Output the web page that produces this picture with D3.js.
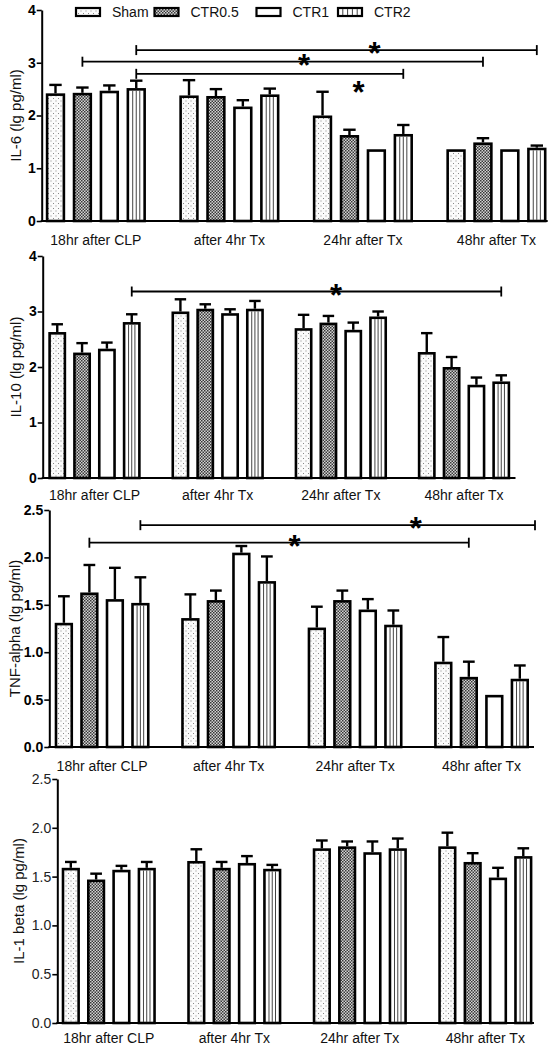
<!DOCTYPE html>
<html><head><meta charset="utf-8">
<script src="https://cdn.jsdelivr.net/npm/d3@7"></script>
<style>
body{margin:0;background:#fff}
svg{display:block}
text{font-family:"Liberation Sans",Arial,sans-serif}
</style>
</head><body>
<svg id="chart" width="550" height="1048"></svg>
<script>
// ---------------- DATA ----------------
const categories = ["18hr after CLP", "after 4hr Tx", "24hr after Tx", "48hr after Tx"];
const seriesNames = ["Sham", "CTR0.5", "CTR1", "CTR2"];

// IL-6 (lg pg/ml): rows = series (Sham, CTR0.5, CTR1, CTR2), cols = categories
const il6Means = [
  [2.42, 2.38, 2.00, 1.36],
  [2.43, 2.37, 1.63, 1.49],
  [2.47, 2.17, 1.36, 1.36],
  [2.52, 2.40, 1.65, 1.39]
];
const il6Errors = [
  [0.16, 0.29, 0.45, 0],
  [0.10, 0.13, 0.10, 0.08],
  [0.10, 0.12, 0, 0],
  [0.14, 0.11, 0.17, 0.04]
];
const il6Ticks = [0, 1, 2, 3, 4];

// IL-10
const il10Means = [
  [2.63, 3.00, 2.70, 2.27],
  [2.26, 3.05, 2.80, 2.00],
  [2.33, 2.97, 2.67, 1.68],
  [2.81, 3.05, 2.91, 1.74]
];
const il10Errors = [
  [0.14, 0.22, 0.24, 0.34],
  [0.17, 0.08, 0.12, 0.18],
  [0.11, 0.07, 0.13, 0.13],
  [0.14, 0.14, 0.09, 0.11]
];
const il10Ticks = [0, 1, 2, 3, 4];

// TNF-alpha
const tnfMeans = [
  [1.31, 1.36, 1.26, 0.90],
  [1.63, 1.55, 1.55, 0.74],
  [1.56, 2.05, 1.45, 0.55],
  [1.52, 1.75, 1.29, 0.72]
];
const tnfErrors = [
  [0.28, 0.25, 0.22, 0.26],
  [0.29, 0.10, 0.10, 0.16],
  [0.33, 0.07, 0.11, 0],
  [0.27, 0.26, 0.15, 0.14]
];
const tnfTicks = [0, 0.5, 1.0, 1.5, 2.0, 2.5];

// IL-1 beta
const il1bMeans = [
  [1.59, 1.66, 1.79, 1.81],
  [1.47, 1.59, 1.81, 1.65],
  [1.57, 1.64, 1.75, 1.49],
  [1.59, 1.58, 1.79, 1.71]
];
const il1bErrors = [
  [0.06, 0.12, 0.08, 0.14],
  [0.06, 0.06, 0.05, 0.09],
  [0.04, 0.07, 0.11, 0.10],
  [0.06, 0.04, 0.10, 0.08]
];
const il1bTicks = [0, 0.5, 1.0, 1.5, 2.0, 2.5];

// significance brackets: from/to = [categoryIndex, seriesIndex] ("end" = axis end)
const il6Sig = [
  {from: [0, 3], to: [3, 3], level: 3.24, label: "*"},
  {from: [0, 1], to: [3, 1], level: 3.02, label: "*"},
  {from: [0, 3], to: [2, 3], level: 2.79, label: "*"}
];
const il10Sig = [
  {from: [0, 3], to: [3, 3], level: 3.36, label: "*"}
];
const tnfSig = [
  {from: [0, 3], to: "end", level: 2.34, label: "*"},
  {from: [0, 1], to: [3, 1], level: 2.155, label: "*"}
];
const il1bSig = [];

// ---------------- LAYOUT ----------------
const panels = [
  {title: "IL-6 (lg pg/ml)", means: il6Means, errs: il6Errors, ticks: il6Ticks, fmt: d3.format("d"),
   max: 4, yTop: 10, yBase: 221, ax0: 41.7, ax1: 547.7, gL: 45.8, gR: 546.5, titleX: 15, bold: true,
   labelDy: 24, sig: il6Sig, starPos: [[0.595, "above"], [0.553, "above"], [0.832, "below"]]},
  {title: "IL-10 (lg pg/ml)", means: il10Means, errs: il10Errors, ticks: il10Ticks, fmt: d3.format("d"),
   max: 4, yTop: 256, yBase: 478, ax0: 42.7, ax1: 515.5, gL: 48.3, gR: 510.2, titleX: 15, bold: true,
   labelDy: 22, sig: il10Sig, starPos: [[0.553, "above"]]},
  {title: "TNF-alpha (lg pg/ml)", means: tnfMeans, errs: tnfErrors, ticks: tnfTicks, fmt: d3.format(".1f"),
   max: 2.5, yTop: 510, yBase: 747, ax0: 49.3, ax1: 534, gL: 54.7, gR: 529, titleX: 14, bold: true,
   labelDy: 24, sig: tnfSig, starPos: [[0.698, "above"], [0.541, "above"]]},
  {title: "IL-1 beta (lg pg/ml)", means: il1bMeans, errs: il1bErrors, ticks: il1bTicks, fmt: d3.format(".1f"),
   max: 2.5, yTop: 779, yBase: 1023, ax0: 57.3, ax1: 534, gL: 61.7, gR: 532.4, titleX: 18, bold: false,
   labelDy: 20, sig: il1bSig, starPos: []}
];

const svg = d3.select("#chart");
const defs = svg.append("defs");

// patterns
const pDots = defs.append("pattern").attr("id", "dots").attr("patternUnits", "userSpaceOnUse")
  .attr("width", 5).attr("height", 5);
pDots.append("rect").attr("width", 5).attr("height", 5).attr("fill", "#fbfbfb");
pDots.append("rect").attr("x", 0.5).attr("y", 0.5).attr("width", 1).attr("height", 1).attr("fill", "#888");
pDots.append("rect").attr("x", 3).attr("y", 3).attr("width", 1).attr("height", 1).attr("fill", "#888");

const pCheck = defs.append("pattern").attr("id", "check").attr("patternUnits", "userSpaceOnUse")
  .attr("width", 3).attr("height", 3);
pCheck.append("rect").attr("width", 3).attr("height", 3).attr("fill", "#d4d4d4");
pCheck.append("rect").attr("x", 0).attr("y", 0).attr("width", 1.5).attr("height", 1.5).attr("fill", "#383838");
pCheck.append("rect").attr("x", 1.5).attr("y", 1.5).attr("width", 1.5).attr("height", 1.5).attr("fill", "#383838");

const fills = ["url(#dots)", "url(#check)", "#fff", "#fff"];
const SW = 2.6; // bar stroke

panels.forEach(p => {
  const g = svg.append("g");
  const y = d3.scaleLinear().domain([0, p.max]).range([p.yBase, p.yTop]);
  const gx = d3.scaleBand().domain(categories).range([p.gL, p.gR]).paddingInner(0.25).paddingOuter(0);
  const sx = d3.scaleBand().domain(seriesNames).range([0, gx.bandwidth()]).paddingInner(0.28).paddingOuter(0);
  const cx = (ci, si) => gx(categories[ci]) + sx(seriesNames[si]) + sx.bandwidth() / 2;

  const rows = [];
  seriesNames.forEach((s, si) => categories.forEach((c, ci) => {
    rows.push({s, si, c, ci, v: p.means[si][ci], e: p.errs[si][ci]});
  }));

  // error bars
  const eb = g.append("g").attr("stroke", "#000").attr("stroke-width", 2.4).attr("fill", "none");
  rows.filter(d => d.e > 0).forEach(d => {
    const x = cx(d.ci, d.si);
    const capW = sx.bandwidth() * 0.32;
    eb.append("line").attr("x1", x).attr("x2", x).attr("y1", y(d.v)).attr("y2", y(d.v + d.e));
    eb.append("line").attr("x1", x - capW).attr("x2", x + capW).attr("y1", y(d.v + d.e)).attr("y2", y(d.v + d.e));
  });

  // bars
  g.append("g").selectAll("rect").data(rows).join("rect")
    .attr("x", d => gx(d.c) + sx(d.s) + SW / 2)
    .attr("width", sx.bandwidth() - SW)
    .attr("y", d => y(d.v) + SW / 2)
    .attr("height", d => p.yBase - y(d.v) - SW / 2)
    .attr("fill", d => fills[d.si])
    .attr("stroke", "#000").attr("stroke-width", SW);

  // vertical stripes for CTR2
  const stripes = g.append("g").attr("stroke", "#444").attr("stroke-width", 1);
  rows.filter(d => d.si === 3).forEach(d => {
    const x0 = gx(d.c) + sx(d.s) + SW;
    const w = sx.bandwidth() - 2 * SW;
    [0.25, 0.5, 0.75].forEach(f => {
      stripes.append("line").attr("x1", x0 + w * f).attr("x2", x0 + w * f)
        .attr("y1", y(d.v) + SW).attr("y2", p.yBase);
    });
  });

  // y axis
  const ax = g.append("g").attr("transform", `translate(${p.ax0},0)`)
    .call(d3.axisLeft(y).tickValues(p.ticks).tickFormat(p.fmt).tickSize(5).tickSizeOuter(0).tickPadding(1));
  ax.select(".domain").attr("stroke", "#000").attr("stroke-width", 2);
  ax.selectAll(".tick line").attr("stroke", "#000").attr("stroke-width", 1.6);
  ax.selectAll(".tick text").attr("font-size", 14).attr("font-weight", p.bold ? "bold" : "normal")
    .attr("fill", p.bold ? "#000" : "#222")
    .attr("font-family", '"Liberation Sans",Arial,sans-serif');

  // x axis line
  g.append("line").attr("x1", p.ax0 - 1).attr("x2", p.ax1).attr("y1", p.yBase).attr("y2", p.yBase)
    .attr("stroke", "#000").attr("stroke-width", 2.2);

  // category labels
  g.append("g").selectAll("text").data(categories).join("text")
    .attr("x", d => gx(d) + gx.bandwidth() / 2)
    .attr("y", p.yBase + p.labelDy)
    .attr("text-anchor", "middle").attr("font-size", 14).attr("fill", "#111")
    .text(d => d);

  // y title
  g.append("text")
    .attr("transform", `translate(${p.titleX},${(p.yBase + p.yTop) / 2}) rotate(-90)`)
    .attr("text-anchor", "middle").attr("dominant-baseline", "central")
    .attr("font-size", 15).attr("fill", "#111")
    .text(p.title);

  // significance brackets
  p.sig.forEach((b, i) => {
    const x1 = cx(b.from[0], b.from[1]);
    const x2 = b.to === "end" ? p.ax1 + 1 : cx(b.to[0], b.to[1]);
    const ly = y(b.level);
    const br = g.append("g").attr("stroke", "#000").attr("stroke-width", 1.8);
    br.append("line").attr("x1", x1).attr("x2", x2).attr("y1", ly).attr("y2", ly);
    br.append("line").attr("x1", x1).attr("x2", x1).attr("y1", ly - 5).attr("y2", ly + 5);
    br.append("line").attr("x1", x2).attr("x2", x2).attr("y1", ly - 5).attr("y2", ly + 5);
    const [t, where] = p.starPos[i];
    g.append("text").attr("x", x1 + (x2 - x1) * t)
      .attr("y", where === "above" ? ly + 14 : ly + 29)
      .attr("text-anchor", "middle").attr("font-size", 31).attr("font-weight", "bold")
      .text(b.label);
  });
});

// legend
const legendX = [75, 153.5, 255.5, 337];
const lg = svg.append("g");
seriesNames.forEach((s, i) => {
  const x = legendX[i];
  lg.append("rect").attr("x", x + 1).attr("y", 8).attr("width", 24).attr("height", 8)
    .attr("fill", fills[i]).attr("stroke", "#000").attr("stroke-width", 2.2);
  if (i === 3) {
    [0.2, 0.4, 0.6, 0.8].forEach(f => lg.append("line")
      .attr("x1", x + 1 + 24 * f).attr("x2", x + 1 + 24 * f).attr("y1", 9).attr("y2", 15)
      .attr("stroke", "#444").attr("stroke-width", 1));
  }
  lg.append("text").attr("x", x + 37).attr("y", 17).attr("font-size", 14).attr("fill", "#111").text(s);
});
</script>
</body></html>
